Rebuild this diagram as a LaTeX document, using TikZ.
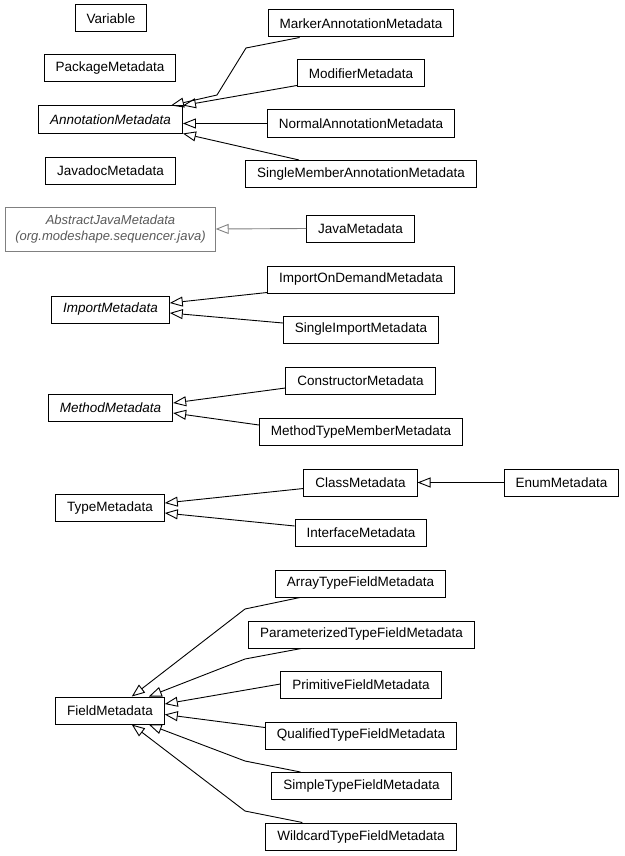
\documentclass[tikz,border=0pt]{standalone}
\usepackage{fontspec}
\setmainfont{Liberation Sans}
\usetikzlibrary{arrows.meta}
\definecolor{absgray}{RGB}{128,128,128}
\definecolor{abstext}{RGB}{90,90,90}
\begin{document}
\begin{tikzpicture}[x=1pt,y=-1pt,
  cls/.style={draw, line width=1pt, fill=white, minimum height=27pt, inner xsep=11.5pt, inner ysep=2pt, font=\fontsize{13.5}{16}\selectfont},
  abscls/.style={cls, font=\fontsize{13.5}{16}\selectfont\itshape},
  extcls/.style={cls, draw=absgray, text=abstext, align=center, minimum height=44pt, inner xsep=9.5pt, font=\fontsize{13}{16.5}\selectfont\itshape},
  inh/.style={draw, line width=0.9pt, -{Triangle[open,length=13pt,width=10pt,line width=0.9pt]}},
  inhgray/.style={inh, draw=absgray}]
\useasboundingbox (0,0) rectangle (624,856);
% left column
\node[cls] (var) at (111,18.5) {Variable};
\node[cls] (pkg) at (110,68.5) {PackageMetadata};
\node[abscls] (ann) at (110.5,119.5) {AnnotationMetadata};
\node[cls] (jdoc) at (110.5,170.5) {JavadocMetadata};
\node[extcls] (ajm) at (110.5,229) {AbstractJavaMetadata\\(org.modeshape.sequencer.java)};
\node[abscls] (imp) at (110.5,309.5) {ImportMetadata};
\node[abscls] (meth) at (110.5,408) {MethodMetadata};
\node[cls] (type) at (110,508) {TypeMetadata};
\node[cls] (field) at (110,710.5) {FieldMetadata};
% right column
\node[cls] (marker) at (361,23.5) {MarkerAnnotationMetadata};
\node[cls] (mod) at (361,73.5) {ModifierMetadata};
\node[cls] (norm) at (361,123.5) {NormalAnnotationMetadata};
\node[cls] (smem) at (361,174) {SingleMemberAnnotationMetadata};
\node[cls] (jm) at (360.5,228.5) {JavaMetadata};
\node[cls] (iod) at (361,279.5) {ImportOnDemandMetadata};
\node[cls] (simp) at (361,329.5) {SingleImportMetadata};
\node[cls] (cons) at (360.5,381) {ConstructorMetadata};
\node[cls] (mtm) at (361,432) {MethodTypeMemberMetadata};
\node[cls] (clsm) at (360.5,482.5) {ClassMetadata};
\node[cls] (enum) at (561.5,482.5) {EnumMetadata};
\node[cls] (intf) at (361,533) {InterfaceMetadata};
\node[cls] (arr) at (360.5,583.5) {ArrayTypeFieldMetadata};
\node[cls] (par) at (361.5,634.5) {ParameterizedTypeFieldMetadata};
\node[cls] (prim) at (361,685) {PrimitiveFieldMetadata};
\node[cls] (qual) at (361,735.5) {QualifiedTypeFieldMetadata};
\node[cls] (simple) at (361.5,786) {SimpleTypeFieldMetadata};
\node[cls] (wild) at (361,836.5) {WildcardTypeFieldMetadata};
% inheritance edges
\draw[inh] ([xshift=32pt]marker.south west) -- (246,48) -- (217,95) -- ([xshift=-12pt]ann.north east);
\draw[inh] ([yshift=2pt]mod.south west) -- (ann.north east);
\draw[inh] (norm.west) -- (norm.west -| ann.east);
\draw[inh] ([xshift=54pt]smem.north west) -- (ann.south east);
\draw[inhgray] (jm.west) -- (ajm.east);
\draw[inh] ([yshift=1pt]iod.south west) -- ([yshift=6.5pt]imp.east);
\draw[inh] ([yshift=6.5pt]simp.west) -- ([yshift=-3.5pt]imp.east);
\draw[inh] ([yshift=-7pt]cons.west) -- ([yshift=5pt]meth.east);
\draw[inh] ([yshift=7pt]mtm.west) -- ([yshift=-5pt]meth.east);
\draw[inh] ([yshift=-6pt]clsm.west) -- ([yshift=5pt]type.east);
\draw[inh] ([yshift=7pt]intf.west) -- ([yshift=-5pt]type.east);
\draw[inh] (enum.west) -- (clsm.east);
\draw[inh] ([xshift=25pt]arr.south west) -- (245,609) -- ([xshift=-33pt]field.north east);
\draw[inh] ([xshift=53pt]par.south west) -- (245,659) -- ([xshift=-16pt]field.north east);
\draw[inh] ([yshift=1pt]prim.west) -- ([yshift=6.5pt]field.east);
\draw[inh] ([yshift=8pt]qual.west) -- ([yshift=-4pt]field.east);
\draw[inh] ([xshift=29pt]simple.north west) -- (245,761) -- ([xshift=-16pt]field.south east);
\draw[inh] ([xshift=37pt]wild.north west) -- (245,811) -- ([xshift=-33pt]field.south east);
\end{tikzpicture}
\end{document}
